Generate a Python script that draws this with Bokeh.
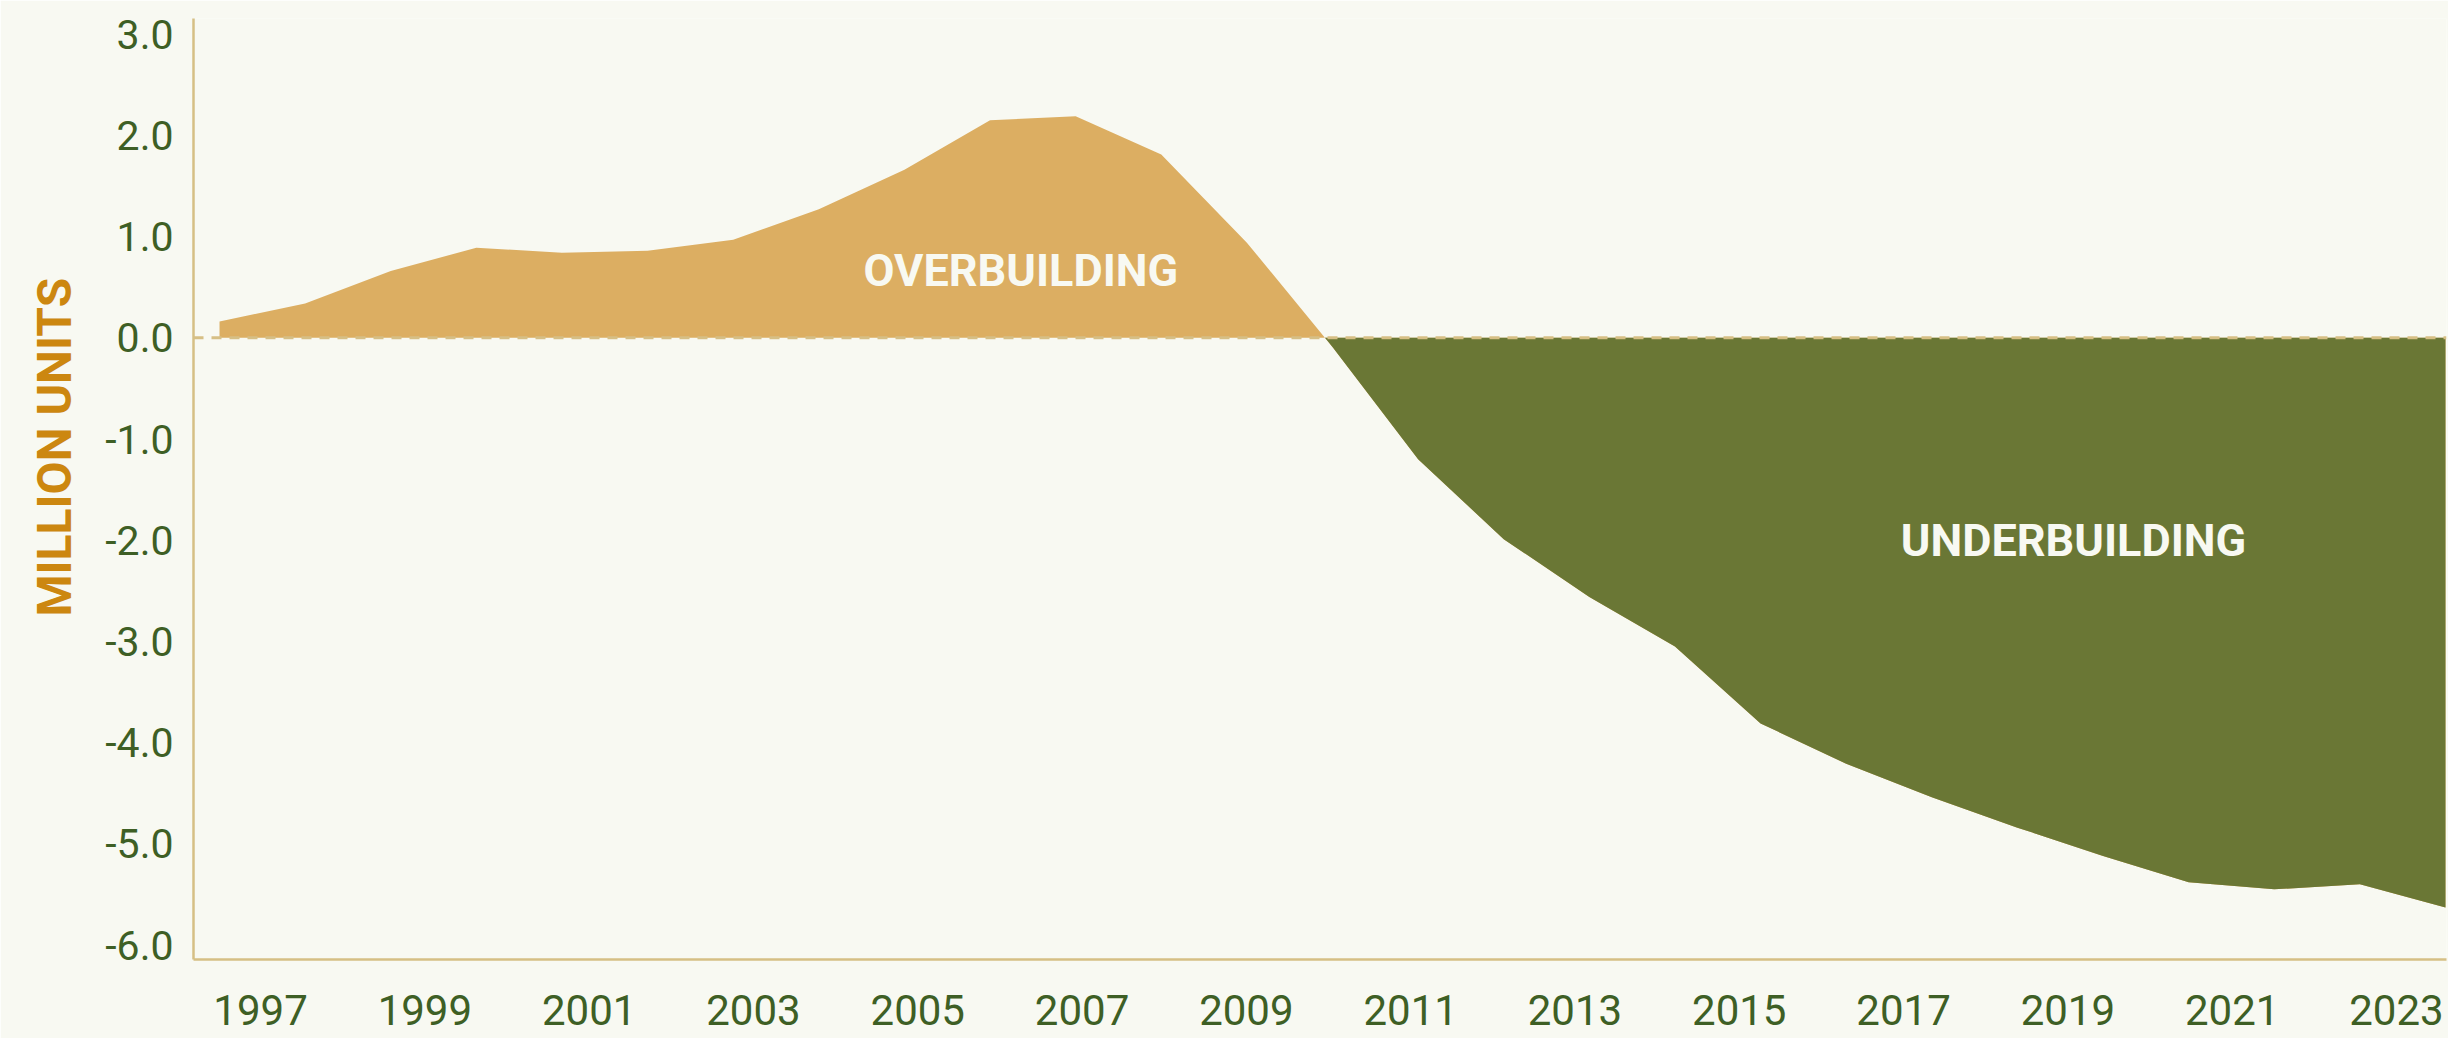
from bokeh.plotting import figure
from bokeh.models import Range1d, LinearAxis, FixedTicker, PrintfTickFormatter, Span, Label, Title
from bokeh.embed import file_html
from bokeh.resources import INLINE

# ---- data ----
years = list(range(1997, 2024))
balance = [0.16, 0.34, 0.66, 0.89, 0.84, 0.86, 0.97, 1.27, 1.66, 2.15, 2.19, 1.81, 0.94, -0.09,
           -1.20, -1.99, -2.56, -3.05, -3.81, -4.21, -4.54, -4.84, -5.12, -5.38, -5.45, -5.40, -5.63]
y_ticks = [-6, -5, -4, -3, -2, -1, 0, 1, 2, 3]
x_tick_years = list(range(1997, 2024, 2))
y_title = "MILLION UNITS"
over_text = "OVERBUILDING"
under_text = "UNDERBUILDING"

# ---- styles ----
BG = "#f8f9f2"
ORANGE = "#dcae62"
GREEN = "#6a7735"
TICK = "#3e5f25"
TITLE = "#cc8710"
AXIS = "#d6bf85"
FONT = "Roboto"

p = figure(width=2448, height=1038, output_backend="svg", toolbar_location=None,
           x_range=Range1d(1996.696, 2023.012), y_range=Range1d(-6.143, 3.155),
           x_axis_location=None, y_axis_location="left",
           min_border_left=193, min_border_right=2, min_border_top=18, min_border_bottom=79,
           background_fill_color=BG, border_fill_color=BG, outline_line_color=None)
p.extra_x_ranges = {"lab": Range1d(1996.184, 2023.609)}
p.grid.visible = False

# negative (underbuilding) part, split at the zero crossing
neg_x, neg_y = [], []
for i, (yr, v) in enumerate(zip(years, balance)):
    if i > 0:
        pv = balance[i - 1]
        if (pv > 0) != (v > 0) and pv != v:
            t = pv / (pv - v)
            neg_x.append(years[i - 1] + t * (yr - years[i - 1]))
            neg_y.append(0.0)
    neg_x.append(yr)
    neg_y.append(min(v, 0.0))

p.varea(x=years, y1=0, y2=balance, fill_color=ORANGE)
p.varea(x=neg_x, y1=0, y2=neg_y, fill_color=GREEN)

p.add_layout(Span(location=0, dimension="width", line_color=AXIS, line_width=3, line_dash="10 8"))

p.add_layout(Label(x=2006.36, y=0.665, text=over_text, text_align="center", text_baseline="middle",
                   text_font=FONT, text_font_style="bold", text_font_size="45px", text_color=BG))
p.add_layout(Label(x=2018.655, y=-2.0, text=under_text, text_align="center", text_baseline="middle",
                   text_font=FONT, text_font_style="bold", text_font_size="45px", text_color=BG))

# y axis
ya = p.yaxis[0]
ya.ticker = FixedTicker(ticks=y_ticks)
ya.formatter = PrintfTickFormatter(format="%.1f")
ya.axis_line_color = AXIS
ya.axis_line_width = 2.5
ya.major_tick_line_color = None
ya.minor_tick_line_color = None
ya.major_tick_out = 0
ya.major_label_standoff = 20
ya.major_label_text_font = FONT
ya.major_label_text_font_size = "41px"
ya.major_label_text_color = TICK

# y title (left panel, outside the axis)
p.add_layout(Title(text=y_title, align="left", offset=343, standoff=36, vertical_align="top",
                   text_font=FONT, text_font_style="bold", text_font_size="48px",
                   text_color=TITLE), "left")

# x axis (labels)
xa = LinearAxis(x_range_name="lab", ticker=FixedTicker(ticks=x_tick_years),
                formatter=PrintfTickFormatter(format="%d"))
xa.axis_line_color = AXIS
xa.axis_line_width = 2.5
xa.major_tick_line_color = None
xa.minor_tick_line_color = None
xa.major_tick_out = 0
xa.major_label_standoff = 35
xa.major_label_text_font = FONT
xa.major_label_text_font_size = "42px"
xa.major_label_text_color = TICK
p.add_layout(xa, "below")

open("out.html", "w").write(file_html(p, INLINE))
